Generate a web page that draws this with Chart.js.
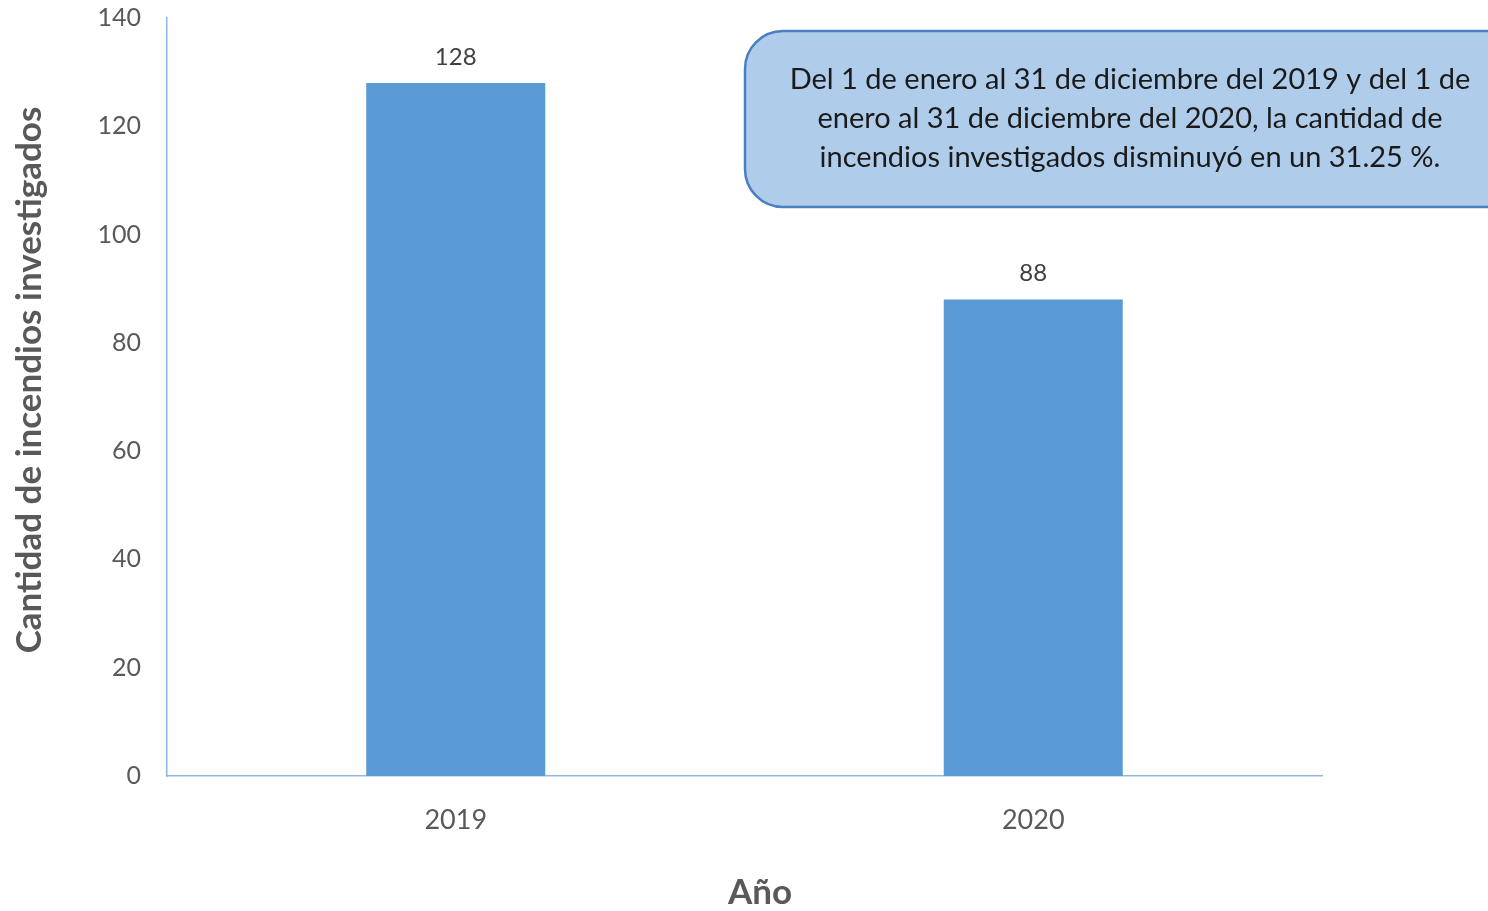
<!DOCTYPE html>
<html>
<head>
<meta charset="utf-8">
<script src="https://cdn.jsdelivr.net/npm/chart.js@4.4.1/dist/chart.umd.min.js"></script>
<style>
  body { margin: 0; background: #fff; }
  #wrap { width: 1488px; height: 911px; }
</style>
</head>
<body>
<div id="wrap"><canvas id="chart" width="1488" height="911"></canvas></div>
<script>
// === DATA ===
const years = ['2019', '2020'];
const incendios = [128, 88];
const xTitle = 'Año';
const yTitle = 'Cantidad de incendios investigados';
const noteLines = [
  'Del 1 de enero al 31 de diciembre del 2019 y del 1 de',
  'enero al 31 de diciembre del 2020, la cantidad de',
  'incendios investigados disminuyó en un 31.25 %.'
];

const FONT = 'Lato, "Open Sans", sans-serif';

// value labels above each bar
const barLabels = {
  id: 'barLabels',
  afterDatasetsDraw(chart) {
    const ctx = chart.ctx;
    const meta = chart.getDatasetMeta(0);
    ctx.save();
    ctx.font = '24px ' + FONT;
    ctx.fillStyle = '#404040';
    ctx.textAlign = 'center';
    ctx.textBaseline = 'middle';
    meta.data.forEach((bar, i) => ctx.fillText(incendios[i], bar.x, bar.y - 26));
    ctx.restore();
  }
};

// axis titles (placed like the original, slightly off the plot centre)
const axisTitles = {
  id: 'axisTitles',
  afterDraw(chart) {
    const ctx = chart.ctx;
    ctx.save();
    ctx.font = 'bold 35px ' + FONT;
    ctx.fillStyle = '#595959';
    ctx.textAlign = 'center';
    ctx.textBaseline = 'middle';
    ctx.fillText(xTitle, 760, 893);
    ctx.translate(30, 380);
    ctx.rotate(-Math.PI / 2);
    ctx.fillText(yTitle, 0, 0);
    ctx.restore();
  }
};

// rounded note box at top right
const noteBox = {
  id: 'noteBox',
  afterDraw(chart) {
    const ctx = chart.ctx;
    const x = 745, y = 31, w = 800, h = 176, r = 38;
    ctx.save();
    ctx.beginPath();
    ctx.roundRect(x, y, w, h, r);
    ctx.fillStyle = '#afcdea';
    ctx.fill();
    ctx.lineWidth = 2.5;
    ctx.strokeStyle = '#4a7fc0';
    ctx.stroke();
    ctx.font = '29px ' + FONT;
    ctx.fillStyle = '#1a1a1a';
    ctx.textAlign = 'center';
    ctx.textBaseline = 'middle';
    noteLines.forEach((t, i) => ctx.fillText(t, 1130, 80 + i * 39));
    ctx.restore();
  }
};

new Chart(document.getElementById('chart'), {
  type: 'bar',
  data: {
    labels: years,
    datasets: [{ data: incendios, backgroundColor: '#5b9bd5', borderWidth: 0, categoryPercentage: 1, barPercentage: 0.31 }]
  },
  options: {
    responsive: false,
    animation: false,
    layout: { padding: { left: 0, top: 18, right: 166, bottom: 0 } },
    plugins: { legend: { display: false }, tooltip: { enabled: false } },
    scales: {
      x: {
        grid: { display: false, drawTicks: false },
        border: { color: '#8db8e4', width: 1.5 },
        ticks: { color: '#595959', font: { family: FONT, size: 27 }, padding: 28 },
        afterFit(s) { s.height = 911 - 776; }
      },
      y: {
        min: 0, max: 140,
        grid: { display: false, drawTicks: false },
        border: { color: '#8db8e4', width: 1.5 },
        ticks: { stepSize: 20, color: '#595959', font: { family: FONT, size: 25 }, padding: 26 },
        afterFit(s) { s.width = 167; s.paddingTop = 0; s.paddingBottom = 0; }
      }
    }
  },
  plugins: [barLabels, axisTitles, noteBox]
});
</script>
</body>
</html>
